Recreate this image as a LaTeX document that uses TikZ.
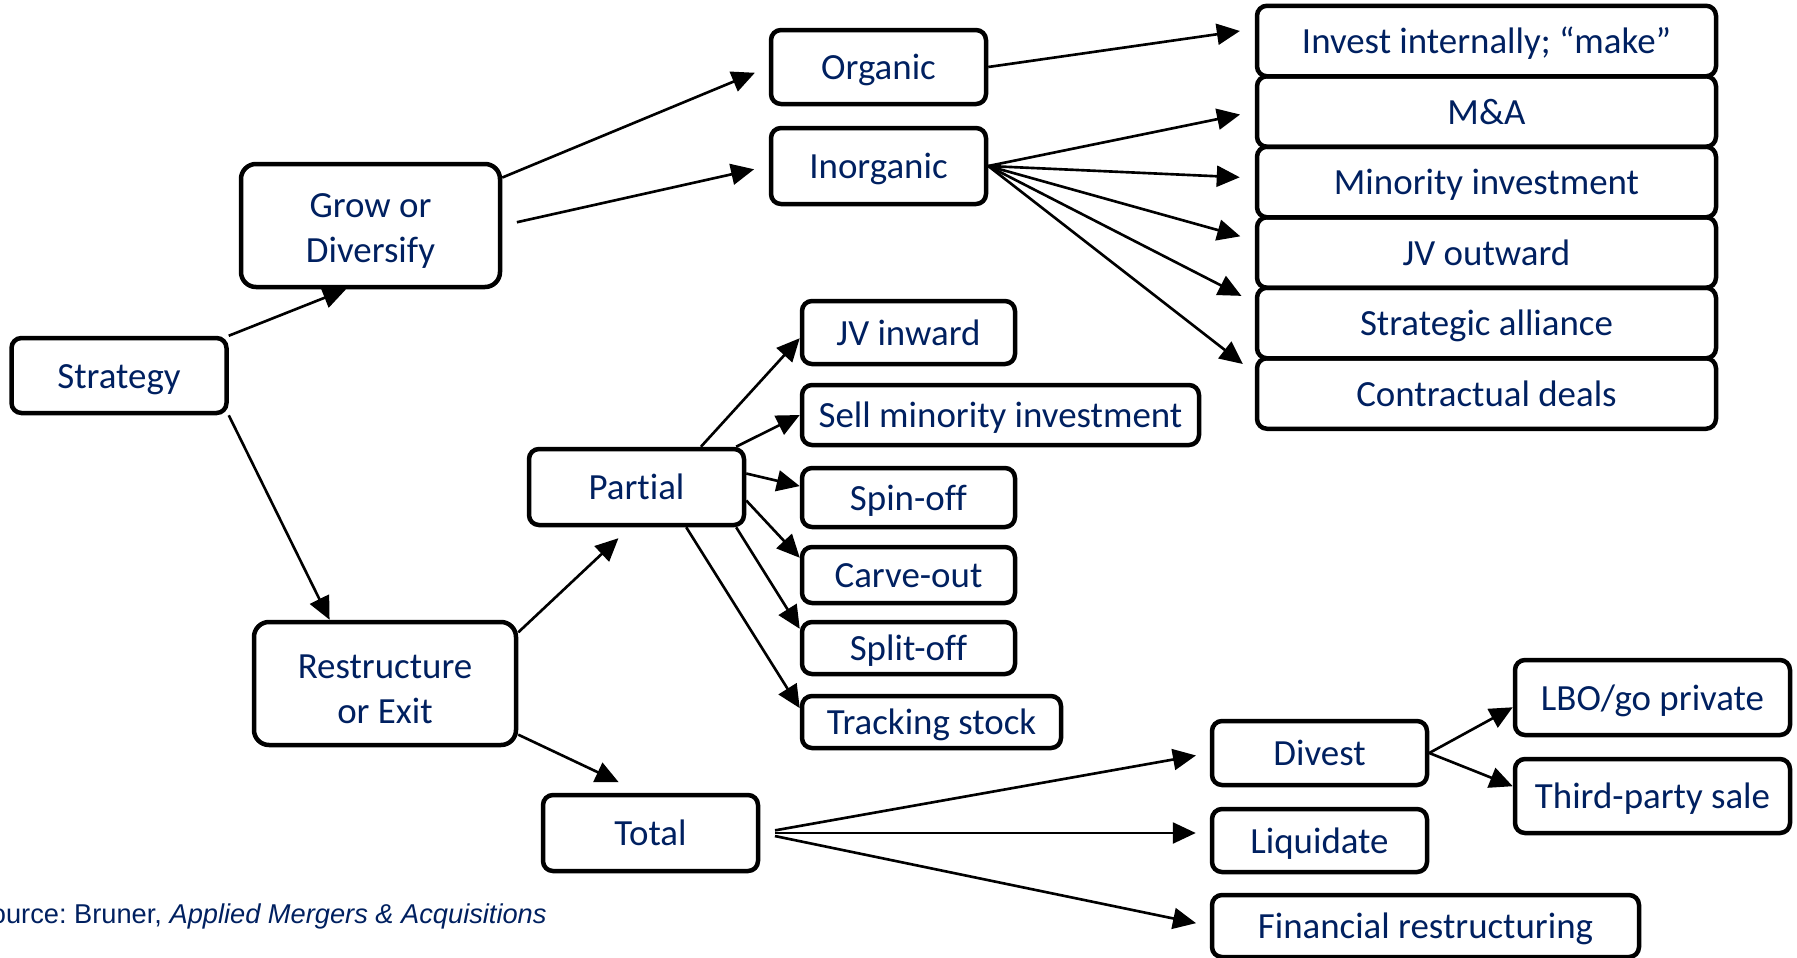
\documentclass[tikz,border=0pt]{standalone}
\usepackage{fontspec}
\setmainfont{Carlito}[Ligatures=NoCommon]
\newfontfamily\srcfont{Liberation Sans}
\usetikzlibrary{arrows.meta}
\definecolor{navy}{RGB}{0,32,96}

\begin{document}
\begin{tikzpicture}[x=1cm,y=1cm,font=\fontsize{10.5}{12.8}\selectfont,
	box/.style={draw,line width=0.45mm,rounded corners=1mm,inner sep=0pt,text=navy,align=center,text height=7.3pt,text depth=0pt},
	arr/.style={-{Triangle[length=2.3mm,width=2.1mm]},line width=0.75pt}]
	\useasboundingbox (0,0) rectangle (17.97,9.57);
	% first level
	\node[box,minimum width=2.15cm,minimum height=0.75cm] (strategy) at (1.19,5.815) {Strategy};
	\node[box,text height=,text depth=,minimum width=2.59cm,minimum height=1.23cm,rounded corners=1.5mm] (grow) at (3.705,7.315) {\rule{0pt}{10pt}Grow or\\Diversify};
	\node[box,text height=,text depth=,minimum width=2.62cm,minimum height=1.23cm,rounded corners=1.5mm] (restr) at (3.85,2.735) {\rule{0pt}{10pt}Restructure\\or Exit};
	% grow or diversify
	\node[box,minimum width=2.15cm,minimum height=0.74cm] (organic) at (8.785,8.90) {Organic};
	\node[box,minimum width=2.15cm,minimum height=0.76cm] (inorganic) at (8.785,7.91) {Inorganic};
	\node[box,minimum width=4.59cm,minimum height=0.705cm] (invest) at (14.865,9.16) {Invest internally; “make”};
	\node[box,minimum width=4.59cm,minimum height=0.705cm] (ma) at (14.865,8.455) {M\&A};
	\node[box,minimum width=4.59cm,minimum height=0.705cm] (minority) at (14.865,7.75) {Minority investment};
	\node[box,minimum width=4.59cm,minimum height=0.705cm] (jvout) at (14.865,7.045) {JV outward};
	\node[box,minimum width=4.59cm,minimum height=0.705cm] (alliance) at (14.865,6.34) {Strategic alliance};
	\node[box,minimum width=4.59cm,minimum height=0.705cm] (contract) at (14.865,5.635) {Contractual deals};
	% restructure or exit
	\node[box,minimum width=2.15cm,minimum height=0.76cm] (partial) at (6.365,4.70) {Partial};
	\node[box,minimum width=2.13cm,minimum height=0.63cm] (jvin) at (9.085,6.245) {JV inward};
	\node[box,minimum width=3.97cm,minimum height=0.60cm] (sell) at (10.005,5.42) {Sell minority investment};
	\node[box,minimum width=2.13cm,minimum height=0.59cm] (spin) at (9.085,4.595) {Spin-off};
	\node[box,minimum width=2.13cm,minimum height=0.56cm] (carve) at (9.085,3.82) {Carve-out};
	\node[box,minimum width=2.13cm,minimum height=0.52cm] (split) at (9.085,3.09) {Split-off};
	\node[box,minimum width=2.59cm,minimum height=0.52cm] (track) at (9.315,2.35) {Tracking stock};
	\node[box,minimum width=2.15cm,minimum height=0.76cm] (total) at (6.505,1.24) {Total};
	\node[box,minimum width=2.15cm,minimum height=0.64cm] (divest) at (13.195,2.04) {Divest};
	\node[box,minimum width=2.15cm,minimum height=0.63cm] (liquidate) at (13.195,1.165) {Liquidate};
	\node[box,minimum width=4.27cm,minimum height=0.62cm] (financial) at (14.255,0.31) {Financial restructuring};
	\node[box,minimum width=2.75cm,minimum height=0.75cm] (lbo) at (16.525,2.595) {LBO/go private};
	\node[box,minimum width=2.75cm,minimum height=0.74cm] (third) at (16.525,1.61) {Third-party sale};
	\node[anchor=east,text=navy,font=\srcfont\fontsize{7.75}{9}\selectfont\frenchspacing] (source) at (5.59,0.405) {Source: Bruner, \textit{Applied Mergers \& Acquisitions}};
	% arrows
	\draw[arr] (strategy.north east) -- (grow.-111);
	\draw[arr] (strategy.south east) -- (restr.131);
	\draw[arr,shorten >=1.5mm] (grow.20) -- (organic.west);
	\draw[arr,shorten <=1.5mm,shorten >=1.5mm] (grow.east) -- (inorganic.west);
	\draw[arr,shorten >=1.5mm] (organic.east) -- (invest.177);
	\draw[arr,shorten >=1.5mm] (inorganic.east) -- (ma.west);
	\draw[arr,shorten >=1.5mm] (inorganic.east) -- (minority.179);
	\draw[arr,shorten >=1.5mm] (inorganic.east) -- (jvout.177);
	\draw[arr,shorten >=1.5mm] (inorganic.east) -- (alliance.175);
	\draw[arr,shorten >=1.5mm] (inorganic.east) -- (contract.175);
	\draw[arr,shorten >=1.6mm] (restr.21) -- (partial.-99);
	\draw[arr,shorten >=2.5mm] (restr.-21) -- (total.103);
	\draw[arr] (partial.32) -- (jvin.183);
	\draw[arr] (partial.22) -- (sell.west);
	\draw[arr] (partial.7) -- (spin.174);
	\draw[arr] (partial.-7) -- (carve.171);
	\draw[arr] (partial.-22) -- (split.170);
	\draw[arr] (partial.-39) -- (track.174);
	\draw[arr,shorten <=1.5mm,shorten >=1.4mm] (total.east) -- (divest.west);
	\draw[arr,shorten <=1.5mm,shorten >=1.4mm] (total.east) -- (total.east -| liquidate.west);
	\draw[arr,shorten <=1.5mm,shorten >=1.4mm] (total.east) -- (financial.west);
	\draw[arr] (divest.east) -- (lbo.184);
	\draw[arr] (divest.east) -- (third.176);
\end{tikzpicture}
\end{document}
